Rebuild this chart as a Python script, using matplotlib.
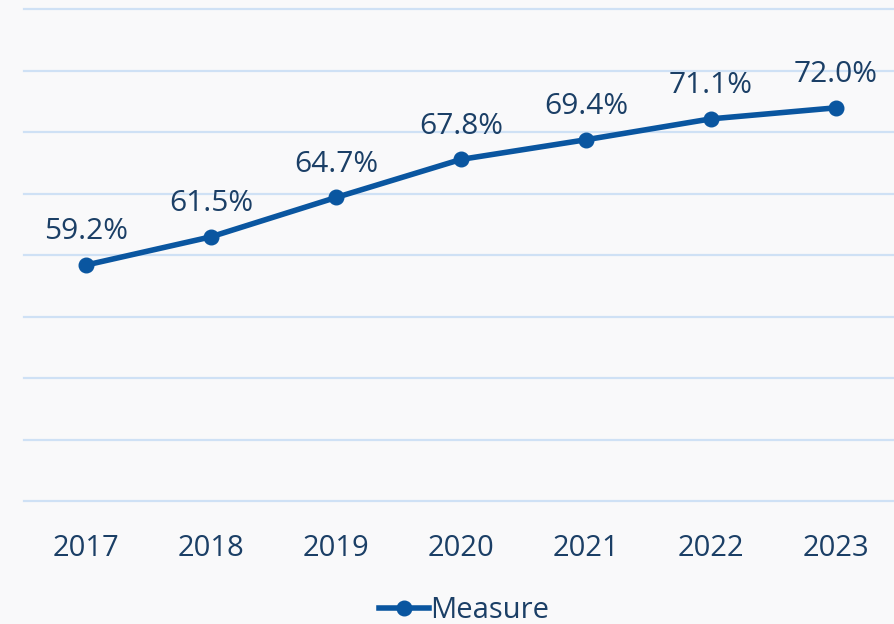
import matplotlib
matplotlib.use("Agg")
import matplotlib.pyplot as plt
from matplotlib.lines import Line2D

years = ["2017", "2018", "2019", "2020", "2021", "2022", "2023"]
measure = [59.2, 61.5, 64.7, 67.8, 69.4, 71.1, 72.0]
y_ticks = [40, 45, 50, 55, 60, 65, 70, 75, 80]

plt.rcParams['font.family'] = ['Open Sans', 'DejaVu Sans']

W, H = 894, 624
bg = "#f9f9fa"
line_c = "#0a56a0"
text_c = "#1b3f66"
grid_c = "#cfe1f5"

fig = plt.figure(figsize=(W / 100, H / 100), dpi=100, facecolor=bg)
ax = fig.add_axes([23.5 / W, (H - 501) / H, 875 / W, (501 - 9.5) / H])
ax.set_facecolor(bg)

x = list(range(len(years)))
ax.plot(x, measure, color=line_c, lw=4, marker="o", ms=10.5, zorder=3)
for xi, v in zip(x, measure):
    ax.annotate(f"{v:.1f}%", (xi, v), xytext=(0, 13.5), textcoords="offset points",
                ha="center", va="bottom", fontsize=21.5, color=text_c)

ax.set_xlim(-0.5, len(years) - 0.5)
ax.set_ylim(40, 80)
ax.set_yticks(y_ticks)
ax.set_yticklabels([])
ax.set_xticks(x)
ax.set_xticklabels(years, fontsize=21, color=text_c)
ax.tick_params(axis="both", length=0)
ax.tick_params(axis="x", pad=24)
ax.grid(axis="y", color=grid_c, lw=1.6)
for gl in ax.get_ygridlines():
    gl.set_clip_on(False)
ax.set_axisbelow(True)
for s in ax.spines.values():
    s.set_visible(False)

handle = Line2D([], [], color=line_c, lw=4, marker="o", ms=10.5)
fig.legend([handle], ["Measure"], loc="center", bbox_to_anchor=(0.519, 13 / H),
           frameon=False, fontsize=21, labelcolor=text_c, handlelength=1.7,
           handletextpad=0.05, borderpad=0)

fig.savefig("out.png", dpi=100, facecolor=bg)
